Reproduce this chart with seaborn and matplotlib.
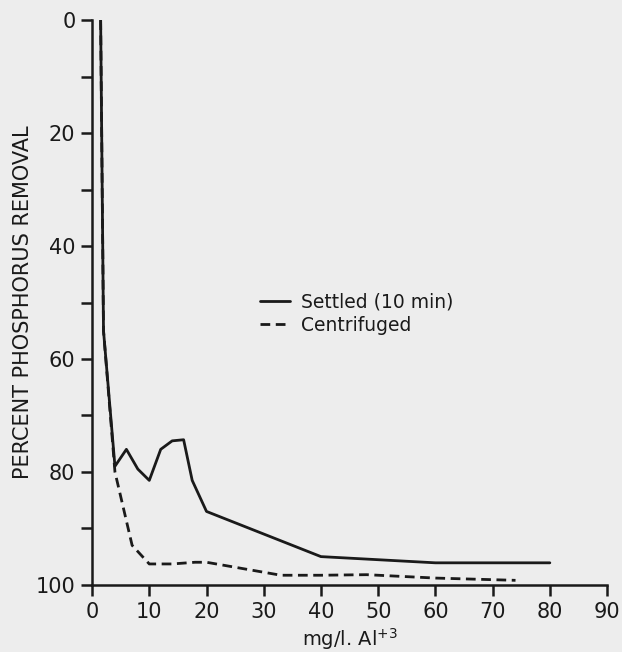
import matplotlib
matplotlib.use("Agg")
import matplotlib.pyplot as plt
import seaborn as sns
import pandas as pd

# Data
settled_x = [1.5, 2, 4, 6, 8, 10, 12, 14, 16, 17.5, 20, 40, 60, 80]
settled_y = [0, 55, 79, 76, 79.5, 81.5, 76, 74.5, 74.3, 81.5, 87, 95, 96.1, 96.1]
centr_x = [1.5, 2, 4, 7, 10, 14, 18, 20, 33, 40, 48, 60, 74]
centr_y = [0, 55, 80, 93, 96.3, 96.3, 96, 96, 98.3, 98.3, 98.2, 98.8, 99.2]
series_names = ["Settled (10 min)", "Centrifuged"]
x_ticks = [0, 10, 20, 30, 40, 50, 60, 70, 80, 90]
y_ticks = [0, 20, 40, 60, 80, 100]
y_minor = [10, 30, 50, 70, 90]

df = pd.concat([
    pd.DataFrame({"x": settled_x, "y": settled_y, "s": series_names[0]}),
    pd.DataFrame({"x": centr_x, "y": centr_y, "s": series_names[1]}),
])

sns.set_theme(style="ticks")
plt.rcParams['font.family'] = ['DejaVu Sans']
plt.rcParams['mathtext.default'] = 'regular'
bg = '#ededed'
ink = "#1a1a1a"
fig = plt.figure(figsize=(6.22, 6.52), dpi=100, facecolor=bg)
ax = fig.add_axes([0.148, 0.103, 0.828, 0.866])
ax.set_facecolor(bg)

sns.lineplot(data=df, x="x", y="y", style="s", sort=False, color=ink,
             linewidth=2.0, dashes={series_names[0]: "", series_names[1]: (3.5, 2)},
             ax=ax, estimator=None)

ax.set_xlim(0, 90)
ax.set_ylim(100, 0)
ax.set_xticks(x_ticks)
ax.set_yticks(y_ticks)
ax.set_yticks(y_minor, minor=True)
for s in ["top", "right"]:
    ax.spines[s].set_visible(False)
for s in ["left", "bottom"]:
    ax.spines[s].set_linewidth(1.8)
    ax.spines[s].set_color(ink)
ax.tick_params(axis="both", which="both", direction="out", length=8, width=1.8,
               color=ink, labelsize=15, labelcolor=ink, pad=4)

ax.set_xlabel(r"mg/l. Al$^{+3}$", fontsize=14, color=ink, labelpad=3)
ax.set_ylabel("PERCENT PHOSPHORUS REMOVAL", fontsize=15, color=ink, labelpad=2)

leg = ax.legend(loc="upper left", bbox_to_anchor=(0.326, 0.518), frameon=False,
                fontsize=13.5, handlelength=1.6, handletextpad=0.6,
                borderaxespad=0, borderpad=0, labelspacing=0.25, title=None)
for t in leg.get_texts():
    t.set_color(ink)

fig.savefig("out.png", dpi=100, facecolor=bg)
